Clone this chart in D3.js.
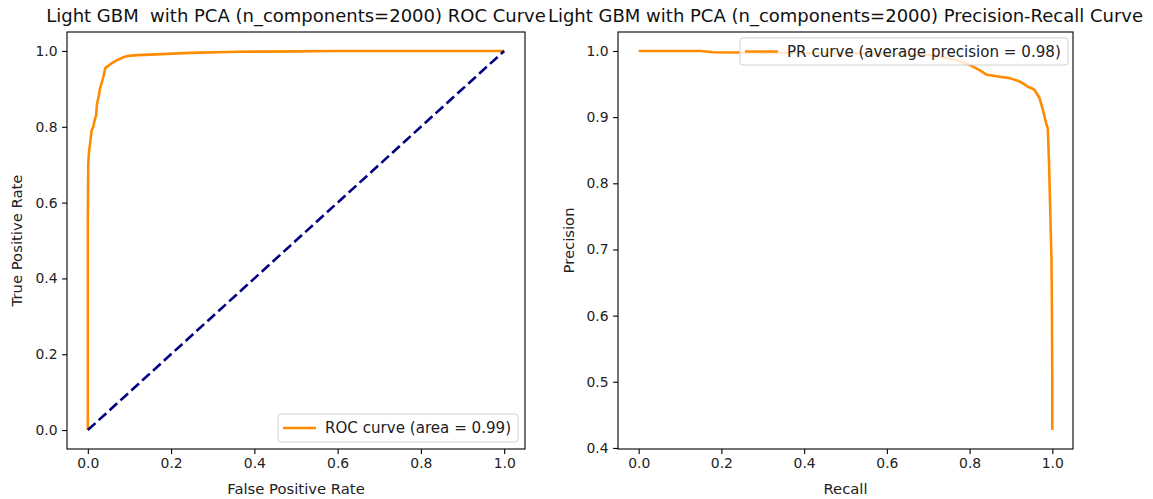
<!DOCTYPE html>
<html>
<head>
<meta charset="utf-8">
<script src="https://cdn.jsdelivr.net/npm/d3@7"></script>
<style>
  html, body { margin: 0; padding: 0; background: #fff; }
  svg { display: block; font-family: "DejaVu Sans", sans-serif; }
  text { white-space: pre; }
</style>
</head>
<body>
<svg id="chart" width="1153" height="499"></svg>
<script>
// ---------- data ----------
const rocTitle = "Light GBM  with PCA (n_components=2000) ROC Curve";
const prTitle = "Light GBM with PCA (n_components=2000) Precision-Recall Curve";
const rocLegend = "ROC curve (area = 0.99)";
const prLegend = "PR curve (average precision = 0.98)";

const rocFpr = [0, 0, 0.001, 0.003, 0.006, 0.009, 0.013, 0.017, 0.020, 0.022, 0.026, 0.029, 0.033, 0.037, 0.040, 0.042, 0.048, 0.057, 0.067, 0.077, 0.087, 0.097, 0.12, 0.165, 0.245, 0.36, 0.5, 0.6, 0.8, 1.0];
const rocTpr = [0, 0.55, 0.70, 0.735, 0.76, 0.79, 0.80, 0.82, 0.83, 0.86, 0.88, 0.90, 0.915, 0.93, 0.945, 0.955, 0.960, 0.967, 0.974, 0.979, 0.984, 0.987, 0.989, 0.991, 0.995, 0.998, 0.999, 1.0, 1.0, 1.0];
const chanceX = [0, 1];
const chanceY = [0, 1];

const prRecall = [0, 0.15, 0.18, 0.40, 0.55, 0.71, 0.74, 0.77, 0.80, 0.824, 0.842, 0.873, 0.897, 0.921, 0.941, 0.953, 0.957, 0.969, 0.978, 0.985, 0.989, 0.992, 0.995, 0.998, 0.999, 1.0, 1.0];
const prPrecision = [1.0, 1.0, 0.998, 0.997, 0.996, 0.994, 0.990, 0.986, 0.979, 0.971, 0.964, 0.961, 0.959, 0.954, 0.946, 0.943, 0.941, 0.929, 0.909, 0.891, 0.883, 0.833, 0.758, 0.683, 0.607, 0.5, 0.427];

const xTicks = [0, 0.2, 0.4, 0.6, 0.8, 1.0];
const rocYTicks = [0, 0.2, 0.4, 0.6, 0.8, 1.0];
const prYTicks = [0.4, 0.5, 0.6, 0.7, 0.8, 0.9, 1.0];

// ---------- drawing ----------
const svg = d3.select("#chart");
const ORANGE = "#ff8c00", NAVY = "#000080";
const LW = 2.6;
const TICK_FS = 13.9, LABEL_FS = 14.8, TITLE_FS = 18, LEG_FS = 15.1;

function drawPanel(opts) {
  const {left, right, top, bottom, xDomain, yDomain, yTicks, title, xLabel, yLabel, yLabelX} = opts;
  const x = d3.scaleLinear().domain(xDomain).range([left, right]);
  const y = d3.scaleLinear().domain(yDomain).range([bottom, top]);
  const g = svg.append("g");

  const xAxis = g.append("g").attr("transform", `translate(0,${bottom})`)
    .call(d3.axisBottom(x).tickValues(xTicks).tickFormat(d3.format(".1f")).tickSizeOuter(0).tickSize(4.9).tickPadding(4.5));
  const yAxis = g.append("g").attr("transform", `translate(${left},0)`)
    .call(d3.axisLeft(y).tickValues(yTicks).tickFormat(d3.format(".1f")).tickSizeOuter(0).tickSize(4.9).tickPadding(4.5));
  [xAxis, yAxis].forEach(a => {
    a.select(".domain").remove();
    a.selectAll("line").attr("stroke", "#000").attr("stroke-width", 1.1);
    a.selectAll("text").attr("font-size", TICK_FS).attr("fill", "#222").attr("font-family", "DejaVu Sans");
  });

  // spines
  g.append("rect").attr("x", left).attr("y", top)
    .attr("width", right - left).attr("height", bottom - top)
    .attr("fill", "none").attr("stroke", "#000").attr("stroke-width", 1.1);

  g.append("text").attr("x", (left + right) / 2).attr("y", top - 10)
    .attr("text-anchor", "middle").attr("font-size", TITLE_FS).attr("fill", "#111").text(title);
  g.append("text").attr("x", (left + right) / 2).attr("y", 494)
    .attr("text-anchor", "middle").attr("font-size", LABEL_FS).attr("fill", "#222").text(xLabel);
  g.append("text").attr("transform", `translate(${yLabelX},${(top + bottom) / 2}) rotate(-90)`)
    .attr("text-anchor", "middle").attr("font-size", LABEL_FS).attr("fill", "#222").text(yLabel);

  const plot = g.append("g");
  return {x, y, g, plot};
}

function drawLegend(g, bx, by, bw, bh, label) {
  const lg = g.append("g");
  lg.append("rect").attr("x", bx).attr("y", by).attr("width", bw).attr("height", bh)
    .attr("rx", 3).attr("fill", "#fff").attr("fill-opacity", 0.8)
    .attr("stroke", "#d0d0d0").attr("stroke-width", 1);
  lg.append("line").attr("x1", bx + 5).attr("x2", bx + 38)
    .attr("y1", by + bh / 2).attr("y2", by + bh / 2)
    .attr("stroke", ORANGE).attr("stroke-width", LW);
  lg.append("text").attr("x", bx + 47).attr("y", by + bh / 2 + 5.3)
    .attr("font-size", LEG_FS).attr("fill", "#222").text(label);
}

// ROC panel
const roc = drawPanel({
  left: 67, right: 525, top: 32, bottom: 449,
  xDomain: [-0.05, 1.05], yDomain: [-0.05, 1.05], yTicks: rocYTicks,
  title: rocTitle, xLabel: "False Positive Rate", yLabel: "True Positive Rate", yLabelX: 22
});
const lineGen = (xs, ys, sx, sy) => d3.line().x((d, i) => sx(xs[i])).y((d, i) => sy(ys[i]))(xs);
roc.plot.append("path").attr("d", lineGen(rocFpr, rocTpr, roc.x, roc.y))
  .attr("fill", "none").attr("stroke", ORANGE).attr("stroke-width", LW).attr("stroke-linejoin", "round");
roc.plot.append("path").attr("d", lineGen(chanceX, chanceY, roc.x, roc.y))
  .attr("fill", "none").attr("stroke", NAVY).attr("stroke-width", LW).attr("stroke-dasharray", "10.3,4.4");
drawLegend(roc.g, 278, 414, 240, 28, rocLegend);

// PR panel
const pr = drawPanel({
  left: 618, right: 1073, top: 32, bottom: 449,
  xDomain: [-0.05, 1.05], yDomain: [0.3984, 1.0287], yTicks: prYTicks,
  title: prTitle, xLabel: "Recall", yLabel: "Precision", yLabelX: 574
});
pr.plot.append("path").attr("d", lineGen(prRecall, prPrecision, pr.x, pr.y))
  .attr("fill", "none").attr("stroke", ORANGE).attr("stroke-width", LW).attr("stroke-linejoin", "round");
drawLegend(pr.g, 740, 38, 328, 27, prLegend);
</script>
</body>
</html>
